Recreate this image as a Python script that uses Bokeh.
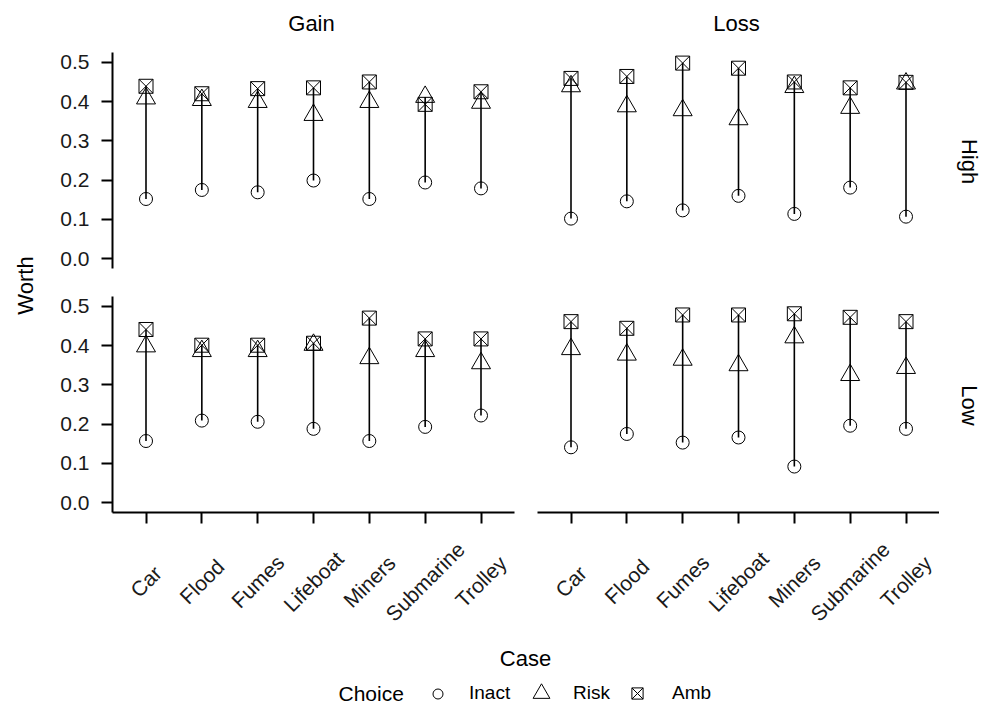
import math
from bokeh.plotting import figure
from bokeh.layouts import row, column
from bokeh.core.properties import value
from bokeh.models import (Range1d, FactorRange, FixedTicker, Label, LabelSet, Legend, LegendItem,
                          ColumnDataSource, PrintfTickFormatter, CustomLabelingPolicy)
from bokeh.embed import file_html
from bokeh.resources import INLINE

# ---------------- data ----------------
cases = ["Car", "Flood", "Fumes", "Lifeboat", "Miners", "Submarine", "Trolley"]
frames = ["Gain", "Loss"]
levels = ["High", "Low"]
choices = ["Inact", "Risk", "Amb"]
y_ticks = [0.0, 0.1, 0.2, 0.3, 0.4, 0.5]

gain_high_inact = [0.152, 0.175, 0.169, 0.199, 0.152, 0.194, 0.179]
gain_high_risk = [0.408, 0.404, 0.399, 0.366, 0.399, 0.412, 0.397]
gain_high_amb = [0.439, 0.420, 0.433, 0.435, 0.450, 0.393, 0.425]

loss_high_inact = [0.102, 0.146, 0.123, 0.160, 0.114, 0.181, 0.107]
loss_high_risk = [0.439, 0.388, 0.378, 0.355, 0.437, 0.384, 0.446]
loss_high_amb = [0.459, 0.464, 0.498, 0.485, 0.450, 0.435, 0.449]

gain_low_inact = [0.157, 0.209, 0.206, 0.188, 0.157, 0.193, 0.222]
gain_low_risk = [0.398, 0.386, 0.386, 0.402, 0.368, 0.386, 0.355]
gain_low_amb = [0.441, 0.401, 0.401, 0.406, 0.470, 0.417, 0.417]

loss_low_inact = [0.141, 0.175, 0.153, 0.166, 0.092, 0.196, 0.188]
loss_low_risk = [0.391, 0.377, 0.364, 0.350, 0.421, 0.325, 0.343]
loss_low_amb = [0.461, 0.444, 0.478, 0.478, 0.481, 0.472, 0.461]

panel_data = {
    ("Gain", "High"): (gain_high_inact, gain_high_risk, gain_high_amb),
    ("Loss", "High"): (loss_high_inact, loss_high_risk, loss_high_amb),
    ("Gain", "Low"): (gain_low_inact, gain_low_risk, gain_low_amb),
    ("Loss", "Low"): (loss_low_inact, loss_low_risk, loss_low_amb),
}

# ---------------- styles ----------------
FONT = "Liberation Sans"
TICK_FS = "21px"
TITLE_FS = "22px"
LEG_TITLE_FS = "21px"
LEG_FS = "19px"
TICK_COLOR = "#1a1a1a"
markers = {"Inact": ("circle", 13), "Risk": ("triangle", 19), "Amb": ("square_x", 14)}
# legend: glyph box size, item start x, label standoff
legend_geom = {"Inact": (25, 425, 19), "Risk": (42, 520, 11), "Amb": (28, 623, 21)}

x_range = FactorRange(factors=cases, range_padding=0.1, range_padding_units="absolute")

# layout sizes (pixels)
W_Y = 54                      # column holding the y title
W_LEFT, W_RIGHT = 471, 414    # panel figure widths
W_STRIP = 44                  # column holding High / Low
W_ALL = W_Y + W_LEFT + W_RIGHT + W_STRIP
L_MB = (58, 11)               # left panels: min border left/right
R_MB = (12, 0)                # right panels: min border left/right
H_STRIP_TOP = 44
H_TOP, H_BOT = 238, 245
H_PAN = H_TOP + H_BOT
H_XLAB, H_B = 108, 70


def blank(p):
    p.outline_line_color = None
    p.xgrid.visible = False
    p.ygrid.visible = False
    p.background_fill_color = "white"
    p.border_fill_color = "white"


def style_axis(ax):
    ax.axis_line_color = "black"
    ax.axis_line_width = 2
    ax.major_tick_line_color = "black"
    ax.major_tick_line_width = 2
    ax.major_tick_out = 11
    ax.major_tick_in = 0
    ax.minor_tick_line_color = None
    ax.major_label_text_font = FONT
    ax.major_label_text_font_size = TICK_FS
    ax.major_label_text_color = TICK_COLOR


def make_panel(frame, level, width, height, mb_lr, mbt, mbb, show_x, show_y):
    p = figure(width=width, height=height, x_range=x_range,
               y_range=Range1d(-0.025, 0.525),
               toolbar_location=None, output_backend="svg",
               x_axis_location="below" if show_x else None,
               y_axis_location="left" if show_y else None,
               min_border_left=mb_lr[0], min_border_right=mb_lr[1],
               min_border_top=mbt, min_border_bottom=mbb)
    blank(p)
    inact, risk, amb = panel_data[(frame, level)]
    lo = [min(a, b, c) for a, b, c in zip(inact, risk, amb)]
    hi = [max(a, b, c) for a, b, c in zip(inact, risk, amb)]
    src = ColumnDataSource(dict(case=cases, lo=lo, hi=hi, Inact=inact, Risk=risk, Amb=amb))
    p.segment(x0="case", y0="lo", x1="case", y1="hi", source=src,
              line_color="black", line_width=1.6)
    for ch in choices:
        mk, sz = markers[ch]
        p.scatter(x="case", y=ch, source=src, marker=mk, size=sz,
                  fill_color=None, line_color="black", line_width=1)
    if show_y:
        ax = p.yaxis[0]
        style_axis(ax)
        ax.ticker = FixedTicker(ticks=y_ticks)
        ax.formatter = PrintfTickFormatter(format="%.1f")
        ax.major_label_standoff = 12
    if show_x:
        ax = p.xaxis[0]
        style_axis(ax)
        # ticks only here: the case names are drawn rotated and centred in the strip below
        ax.major_label_policy = CustomLabelingPolicy(code="return []")
        ax.major_label_text_font_size = "1px"
        ax.major_label_standoff = 0
    return p


tl = make_panel("Gain", "High", W_LEFT, H_TOP, L_MB, 8, 14, False, True)
tr = make_panel("Loss", "High", W_RIGHT, H_TOP, R_MB, 8, 14, False, False)
bl = make_panel("Gain", "Low", W_LEFT, H_BOT, L_MB, 14, 14, True, True)
br = make_panel("Loss", "Low", W_RIGHT, H_BOT, R_MB, 14, 14, True, False)


def text_label(p, x, y, txt, size, angle=0.0, align="center", units="data"):
    p.add_layout(Label(x=x, y=y, x_units=units, y_units=units, text=txt, angle=angle,
                       text_align=align, text_baseline="middle", text_font=FONT,
                       text_font_size=size, text_color="black"))


def text_strip(width, height):
    p = figure(width=width, height=height, x_range=Range1d(0, width),
               y_range=Range1d(0, height),
               toolbar_location=None, output_backend="svg", min_border=0,
               x_axis_location=None, y_axis_location=None)
    blank(p)
    return p


# top strip: facet column labels
pt = text_strip(W_ALL, H_STRIP_TOP)
text_label(pt, 311, H_STRIP_TOP - 23, frames[0], TITLE_FS)
text_label(pt, 736, H_STRIP_TOP - 23, frames[1], TITLE_FS)

# y title column
pw = text_strip(W_Y, H_PAN)
text_label(pw, 25, H_PAN - (285 - H_STRIP_TOP), "Worth", TITLE_FS, angle=math.pi / 2)

# right strip: facet row labels
pr = text_strip(W_STRIP, H_PAN)
text_label(pr, 30, H_PAN - (161 - H_STRIP_TOP), levels[0], TITLE_FS, angle=-math.pi / 2)
text_label(pr, 30, H_PAN - (405 - H_STRIP_TOP), levels[1], TITLE_FS, angle=-math.pi / 2)


# x tick-label strips (share the panels' factor range)
def make_xlab(width, mb_lr):
    p = figure(width=width, height=H_XLAB, x_range=x_range, y_range=Range1d(0, H_XLAB),
               toolbar_location=None, output_backend="svg",
               x_axis_location=None, y_axis_location=None,
               min_border_left=mb_lr[0], min_border_right=mb_lr[1],
               min_border_top=0, min_border_bottom=0)
    blank(p)
    src = ColumnDataSource(dict(case=cases))
    p.add_layout(LabelSet(x="case", y=H_XLAB - 54, text="case", source=src,
                          angle=math.pi / 4, text_align="center", text_baseline="middle",
                          text_font=value(FONT), text_font_size=value(TICK_FS),
                          text_color=TICK_COLOR))
    return p


xl_left = make_xlab(W_Y + W_LEFT, (W_Y + L_MB[0], L_MB[1]))
xl_right = make_xlab(W_RIGHT + W_STRIP, (R_MB[0], W_STRIP))

# bottom: x title + legend
pb = figure(width=W_ALL, height=H_B, x_range=x_range, y_range=Range1d(0, 1),
            toolbar_location=None, output_backend="svg", min_border=0,
            x_axis_location=None, y_axis_location=None)
blank(pb)
LEG_Y = H_B - 58
text_label(pb, 525, H_B - 23, "Case", TITLE_FS, units="screen")
text_label(pb, 338, LEG_Y, "Choice", LEG_TITLE_FS, align="left", units="screen")
leg_src = ColumnDataSource(dict(case=cases, Inact=gain_high_inact, Risk=gain_high_risk,
                                Amb=gain_high_amb))
for ch in choices:
    mk, sz = markers[ch]
    r = pb.scatter(x="case", y=ch, source=leg_src, marker=mk, size=sz,
                   fill_color=None, line_color="black", line_width=1)
    r.visible = False
    gsz, gx, gstand = legend_geom[ch]
    leg = Legend(items=[LegendItem(label=ch, renderers=[r])], orientation="horizontal",
                 location=(gx, LEG_Y - gsz / 2),
                 glyph_width=gsz, glyph_height=gsz, label_standoff=gstand,
                 padding=0, margin=0, border_line_color=None, background_fill_alpha=0,
                 inactive_fill_alpha=0, label_height=gsz,
                 label_text_font=FONT, label_text_font_size=LEG_FS, label_text_color="black")
    pb.add_layout(leg)

layout = column(
    pt,
    row(pw, column(row(tl, tr), row(bl, br)), pr),
    row(xl_left, xl_right),
    pb,
)

open("out.html", "w").write(file_html(layout, INLINE))
